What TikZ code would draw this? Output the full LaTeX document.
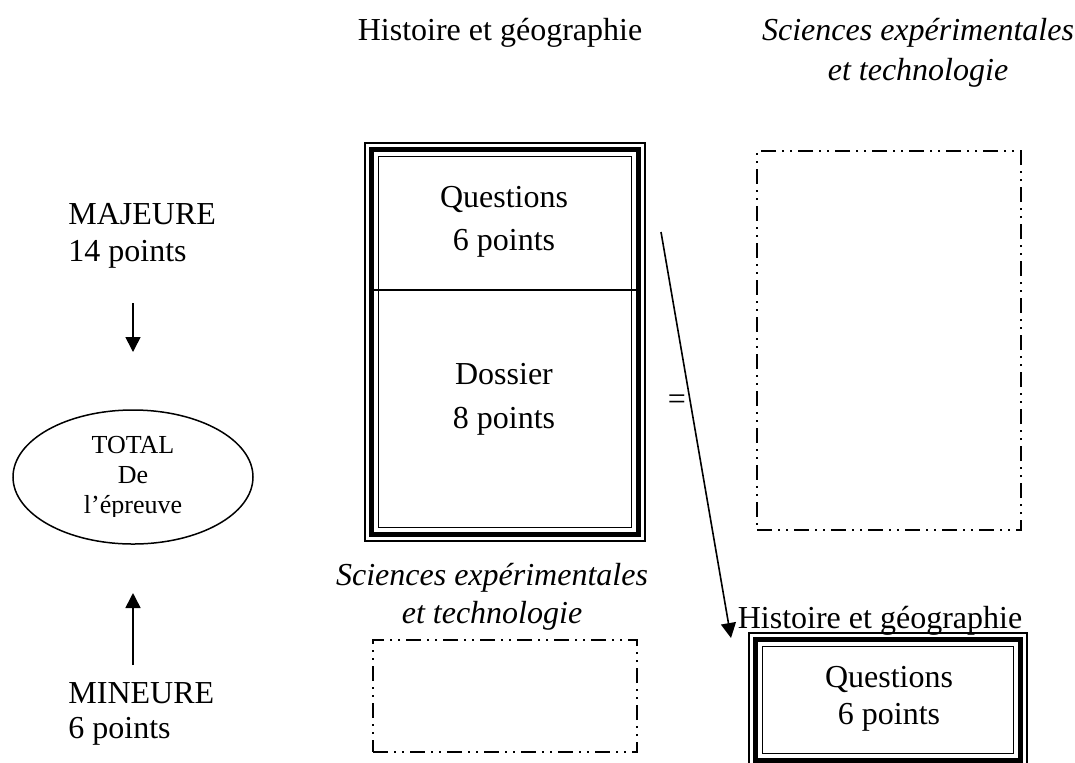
\documentclass[tikz,border=0pt]{standalone}
\usepackage{fontspec}
\setmainfont{Liberation Serif}
\usetikzlibrary{arrows.meta,shapes.geometric,calc}
\newcommand\triplein[1]{%
  \draw[line width=2.5pt] ([shift={(7.5,7.5)}]#1.north west) rectangle ([shift={(-7.5,-7.5)}]#1.south east);
  \draw[line width=0.75pt] ([shift={(14,14)}]#1.north west) rectangle ([shift={(-14,-14)}]#1.south east);}
\begin{document}
\begin{tikzpicture}[x=0.5pt,y=-0.5pt,
  txt/.style={font=\fontsize{16}{18}\selectfont, inner sep=0pt, anchor=base},
  txtl/.style={txt, anchor=base west},
  small/.style={font=\fontsize{13}{15}\selectfont, inner sep=0pt, anchor=base},
  ddd/.style={draw, line width=0.8pt, dash pattern=on 7.5pt off 3pt on 1pt off 3pt on 1pt off 3pt},
  tri/.style={draw, line width=0.65pt, inner sep=0pt},
  arr/.style={-{Triangle[length=7.5pt,width=7.5pt]}, line width=0.8pt}]
\useasboundingbox (0,0) rectangle (1075,762);
\fill[white] (0,0) rectangle (1075,762);

% headings
\node[txt] (h1) at (500,40) {Histoire et géographie};
\node[txt] (s1a) at (918,40) {\itshape Sciences expérimentales};
\node[txt] (s1b) at (918,80) {\itshape et technologie};

% big box
\node[tri, minimum width=140pt, minimum height=199pt] (hg) at (505,342) {};
\triplein{hg}
\draw[line width=0.75pt] (372,290) -- (638,290);
\node[txt] (q1) at (504,207) {Questions};
\node[txt] (q2) at (504,250) {6 points};
\node[txt] (d1) at (504,384) {Dossier};
\node[txt] (d2) at (504,428) {8 points};

% right dashed box
\node[ddd, minimum width=132pt, minimum height=189.5pt] (se1) at (889,340.5) {};

% left column
\node[txtl] (maj1) at (68,224) {MAJEURE};
\node[txtl] (maj2) at (68,261) {14 points};
\node[draw, ellipse, line width=0.75pt, minimum width=120pt, minimum height=67pt, inner sep=0pt] (tot) at (133,477) {};
\begin{scope}
\clip (0,0) rectangle (1075,516);
\node[small] (t1) at (133,453) {TOTAL};
\node[small] (t2) at (133,483) {De};
\node[small] (t3) at (133,513) {l’épreuve};
\end{scope}
\node[txtl] (min1) at (68,703) {MINEURE};
\node[txtl] (min2) at (68,738) {6 points};

\coordinate (a1s) at (133,303); \coordinate (a1e) at (133,352);
\draw[arr] (a1s) -- (a1e);
\coordinate (a2s) at (133,665); \coordinate (a2e) at (133,593);
\draw[arr] (a2s) -- (a2e);

% bottom middle
\node[txt] (s2a) at (492,585) {\itshape Sciences expérimentales};
\node[txt] (s2b) at (492,623) {\itshape et technologie};
\node[ddd, minimum width=132pt, minimum height=56pt] (se2) at (505,696) {};

% bottom right
\node[tri, minimum width=139pt, minimum height=67pt] (hg2) at (888,700) {};
\triplein{hg2}
\node[txt] (h2) at (880,628) {Histoire et géographie};
\node[txt] (q3) at (889,687) {Questions};
\node[txt] (q4) at (889,724) {6 points};

% long arrow and equals
\coordinate (a3s) at (661,232); \coordinate (a3e) at (731,638);
\draw[arr] (a3s) -- (a3e);
\node[txt, anchor=center] (eq) at (677,402) {=};
\end{tikzpicture}
\end{document}
